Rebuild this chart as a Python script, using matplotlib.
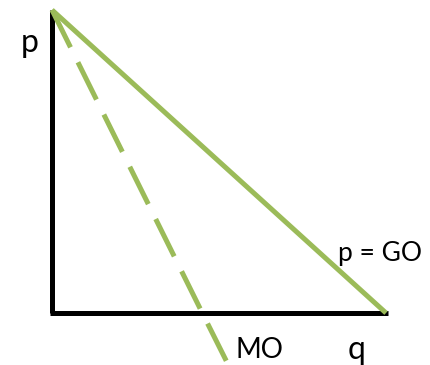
import matplotlib
matplotlib.use("Agg")
import matplotlib.pyplot as plt
import numpy as np

plt.rcParams['font.family'] = ['Lato', 'DejaVu Sans']
plt.rcParams['lines.scale_dashes'] = False

# demand (GO) and marginal revenue (MO) lines, p against q
q_go = [0, 10]
p_go = [10, 0]
q_mo = [0, 4.5, 5.25]
p_mo = [10, 0, -1.65]

# axis extents
q_axis_max = 10.05
p_axis_max = 10

GREEN = "#9BBB59"

fig = plt.figure(figsize=(4.30, 3.65), dpi=100)
ax = fig.add_axes([0, 0, 1, 1])
ax.set_xlim(-1.557, 11.317)
ax.set_ylim(-1.716, 10.33)
ax.axis("off")

# axes drawn as thick black lines
ax.plot([0, 0], [0, p_axis_max], color="black", lw=3.6, solid_capstyle="butt", zorder=2)
ax.plot([-0.05, q_axis_max], [0, 0], color="black", lw=3.6, solid_capstyle="butt", zorder=2)

ax.plot(q_go, p_go, color=GREEN, lw=3.6, solid_capstyle="butt", zorder=3)
ax.plot(q_mo, p_mo, color=GREEN, lw=3.6, dashes=(30, 12), dash_capstyle="butt", zorder=3)

ax.text(-0.68, 8.9, "p", fontsize=23, ha="center", va="center")
ax.text(8.56, 1.95, "p = GO", fontsize=19, ha="left", va="center")
ax.text(5.48, -1.22, "MO", fontsize=20, ha="left", va="center")
ax.text(9.12, -1.22, "q", fontsize=23, ha="center", va="center")

fig.savefig("out.png", dpi=100)
